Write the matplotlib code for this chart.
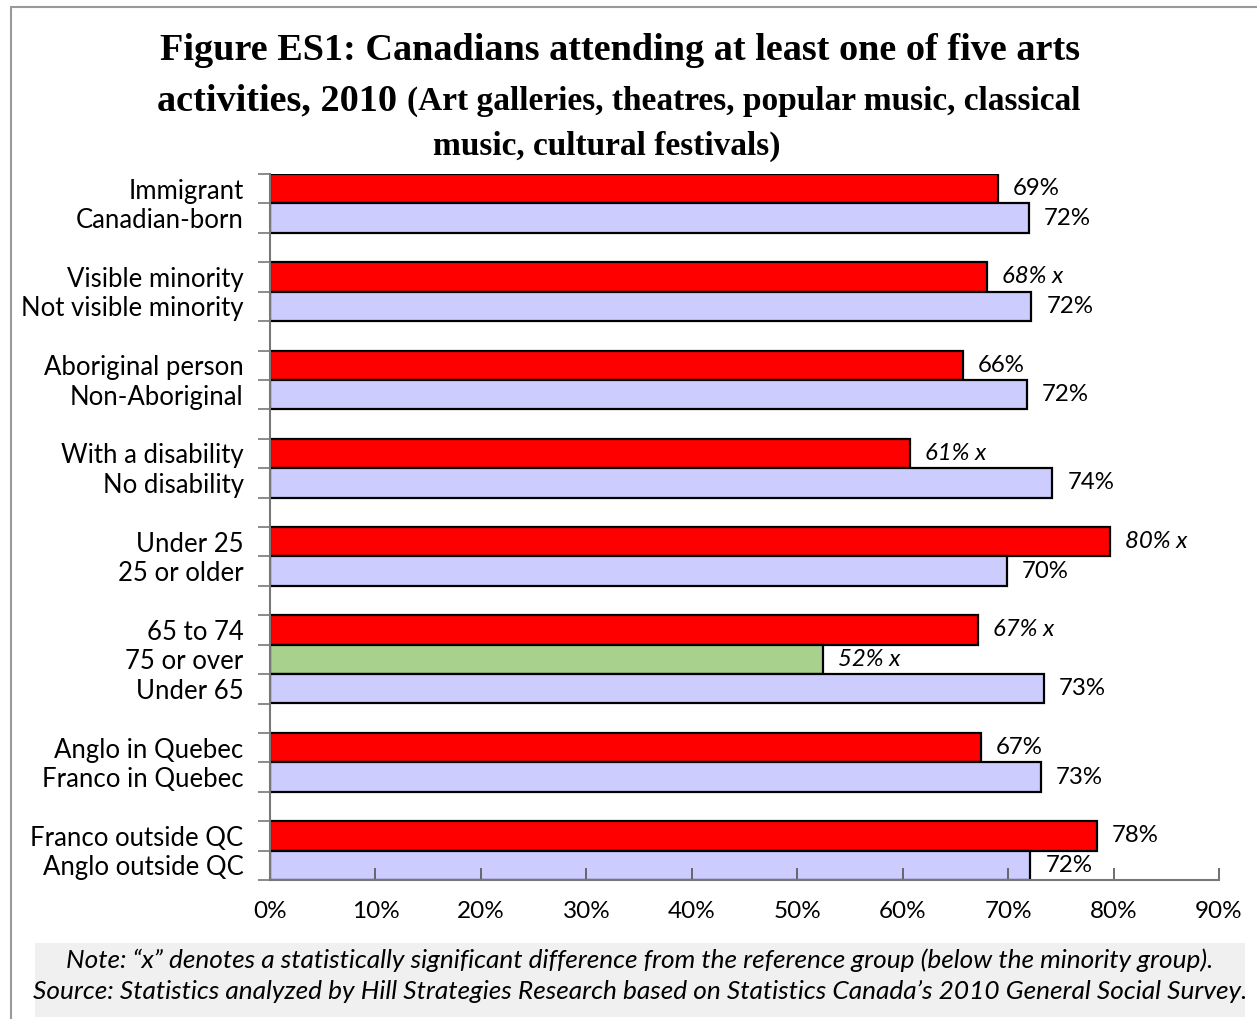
import matplotlib
matplotlib.use("Agg")
import matplotlib.pyplot as plt
from matplotlib.patches import Rectangle

# Survey groups, top to bottom, split into comparison blocks
categories = ["Immigrant", "Canadian-born",
              "Visible minority", "Not visible minority",
              "Aboriginal person", "Non-Aboriginal",
              "With a disability", "No disability",
              "Under 25", "25 or older",
              "65 to 74", "75 or over", "Under 65",
              "Anglo in Quebec", "Franco in Quebec",
              "Franco outside QC", "Anglo outside QC"]
block_sizes = [2, 2, 2, 2, 2, 3, 2, 2]
# Share attending at least one of the five activities (%)
values = [69.0, 72.0, 68.0, 72.2, 65.7, 71.8, 60.7, 74.2,
          79.7, 69.9, 67.1, 52.4, 73.4, 67.4, 73.1, 78.4, 72.1]
# "x" = statistically significant difference from the reference group
significant = [False, False, True, False, False, False, True, False,
               True, False, True, True, False, False, False, False, False]
# Bar roles: m = minority group, r = reference group, o = oldest group
roles = ["m", "r", "m", "r", "m", "r", "m", "r",
         "m", "r", "m", "o", "r", "m", "r", "m", "r"]
x_ticks = [0, 10, 20, 30, 40, 50, 60, 70, 80, 90]

role_colors = {"m": "#ff0000", "r": "#ccccff", "o": "#a9d18e"}
label_font = "Lato"
serif = "Liberation Serif"

W, H = 1257, 1019
fig = plt.figure(figsize=(W / 100, H / 100), dpi=100)
fig.patch.set_facecolor("white")

# Outer frame
fig.add_artist(Rectangle((11 / W, -0.01), 1.5, 1.01 - 7 / H, transform=fig.transFigure,
                         fill=False, edgecolor="#999999", linewidth=1.5))

ax = fig.add_axes([270 / W, (H - 880) / H, (1219 - 270) / W, (880 - 174) / H])

# Row positions with one blank row between blocks
rows = []
r = 0
for size in block_sizes:
    for _ in range(size):
        rows.append(r)
        r += 1
    r += 1
n_rows = r - 1

for y, v, role, sig in zip(rows, values, roles, significant):
    ax.barh(y, v, height=1.0, color=role_colors[role], edgecolor="black", linewidth=1.6)
    txt = f"{v:.0f}%" + (" x" if sig else "")
    ax.annotate(txt, xy=(v, y), xytext=(15, 0), textcoords="offset pixels",
                va="center", ha="left", fontsize=17.3, family=label_font,
                style="italic" if sig else "normal", color="black")

ax.set_xlim(0, 90)
ax.set_ylim(n_rows - 0.5, -0.5)

ax.set_xticks(x_ticks)
ax.set_xticklabels([f"{t}%" for t in x_ticks], fontsize=17.5, family=label_font)
ax.tick_params(axis="x", direction="in", length=9, width=1.2, color="#555555", pad=15)

ax.set_yticks(rows)
ax.set_yticklabels(categories, fontsize=18.5, family=label_font)
ax.tick_params(axis="y", length=0, pad=19)
ax.set_yticks([b - 0.5 for b in range(n_rows + 1)], minor=True)
ax.tick_params(axis="y", which="minor", direction="out", length=9, width=1.2, color="#777777")

for side in ("top", "right"):
    ax.spines[side].set_visible(False)
for side in ("left", "bottom"):
    ax.spines[side].set_color("#777777")
    ax.spines[side].set_linewidth(1.5)

# Title: three lines, the second mixing two sizes
fig.canvas.draw()
renderer = fig.canvas.get_renderer()


def text_width(t):
    return t.get_window_extent(renderer).width


big, small = 27.5, 24.0
fig.text(619.5 / W, 1 - 60 / H, "Figure ES1: Canadians attending at least one of five arts",
         ha="center", va="baseline", fontsize=big, fontweight="bold", family=serif)
t_big = fig.text(0, 1 - 110 / H, "activities, 2010 ", ha="left", va="baseline",
                 fontsize=big, fontweight="bold", family=serif)
t_small = fig.text(0, 1 - 110 / H, "(Art galleries, theatres, popular music, classical",
                   ha="left", va="baseline", fontsize=small, fontweight="bold", family=serif)
w_big = text_width(t_big)
w_small = text_width(t_small)
x0 = 618.5 - (w_big + w_small) / 2
t_big.set_x(x0 / W)
t_small.set_x((x0 + w_big) / W)
fig.text(606.5 / W, 1 - 155 / H, "music, cultural festivals)", ha="center", va="baseline",
         fontsize=small, fontweight="bold", family=serif)

# Footnote box
fig.add_artist(Rectangle((35 / W, 1 - 1017 / H), (1245 - 35) / W, (1017 - 943) / H,
                         transform=fig.transFigure, facecolor="#f0f0f0", edgecolor="none"))
fig.text(640 / W, 1 - 960 / H,
         "Note: \u201cx\u201d denotes a statistically significant difference from the reference group (below the minority group).",
         ha="center", va="center", fontsize=18.9, style="italic", family=label_font)
fig.text(640 / W, 1 - 991 / H,
         "Source: Statistics analyzed by Hill Strategies Research based on Statistics Canada\u2019s 2010 General Social Survey.",
         ha="center", va="center", fontsize=18.9, style="italic", family=label_font)

fig.savefig("out.png", dpi=100, facecolor="white")
